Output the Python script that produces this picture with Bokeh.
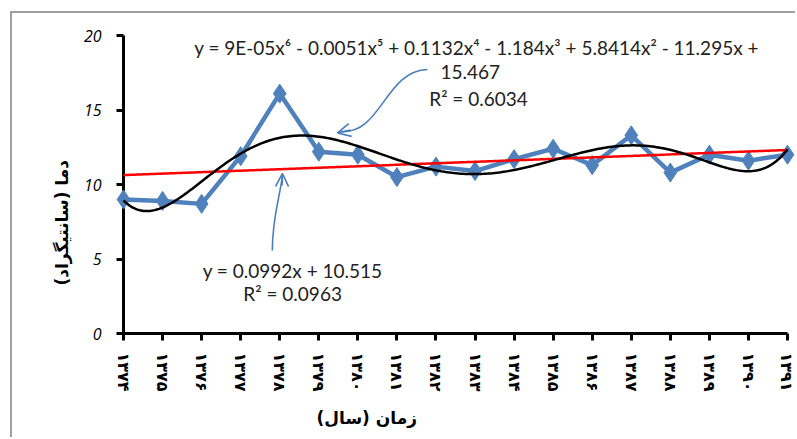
import math
import numpy as np
from bokeh.plotting import figure
from bokeh.models import Range1d, Label, Arrow, OpenHead, FixedTicker, Title
from bokeh.embed import file_html
from bokeh.resources import INLINE

# ---- data ----
years = ["۱۳۷۴", "۱۳۷۵", "۱۳۷۶", "۱۳۷۷", "۱۳۷۸", "۱۳۷۹", "۱۳۸۰", "۱۳۸۱", "۱۳۸۲",
         "۱۳۸۳", "۱۳۸۴", "۱۳۸۵", "۱۳۸۶", "۱۳۸۷", "۱۳۸۸", "۱۳۸۹", "۱۳۹۰", "۱۳۹۱"]
temps = [9.0, 8.9, 8.7, 11.9, 16.1, 12.2, 12.0, 10.5, 11.2,
         10.9, 11.7, 12.4, 11.3, 13.3, 10.8, 12.0, 11.6, 12.0]
y_ticks = [0, 5, 10, 15, 20]
poly_eq = "y = 9E-05x⁶ - 0.0051x⁵ + 0.1132x⁴ - 1.184x³ + 5.8414x² - 11.295x +"
poly_eq2 = "15.467"
poly_r2 = "R² = 0.6034"
lin_eq = "y = 0.0992x + 10.515"
lin_r2 = "R² = 0.0963"
x_title = "زمان (سال)"
y_title = "دما (سانتیگراد)"

xs = np.arange(1, len(temps) + 1)
ya = np.array(temps)

p = figure(width=785, height=426, output_backend="svg", toolbar_location=None,
           x_range=Range1d(1, 18), y_range=Range1d(0, 20),
           min_border_left=111, min_border_right=10, min_border_top=22, min_border_bottom=106)
p.styles = {"border-left": "2px solid #a0a0a0", "border-top": "2px solid #a0a0a0",
            "margin-left": "10px", "margin-top": "11px"}
p.outline_line_color = None
p.grid.visible = False
p.background_fill_color = "white"

# axes
for ax in (p.xaxis, p.yaxis):
    ax.axis_line_color = "black"
    ax.axis_line_width = 3
    ax.major_tick_line_color = "black"
    ax.major_tick_line_width = 3
    ax.major_tick_out = 7
    ax.major_tick_in = 0
    ax.minor_tick_line_color = None

p.xaxis.ticker = FixedTicker(ticks=list(xs))
p.xaxis.major_label_overrides = {int(i): s for i, s in zip(xs, years)}
p.xaxis.major_label_orientation = -math.pi / 2
p.xaxis.major_label_text_font = "DejaVu Sans"
p.xaxis.major_label_text_font_style = "bold"
p.xaxis.major_label_text_font_size = "16px"
p.xaxis.major_label_text_color = "black"
p.xaxis.major_label_standoff = 12

p.yaxis.ticker = FixedTicker(ticks=y_ticks)
p.yaxis.major_label_text_font = "Open Sans"
p.yaxis.major_label_text_font_style = "italic"
p.yaxis.major_label_text_font_size = "16px"
p.yaxis.major_label_text_color = "black"
p.yaxis.major_label_standoff = 15

# axis titles as side titles
yt = Title(text=y_title, align="left", offset=48, vertical_align="bottom",
           text_font="DejaVu Sans", text_font_style="bold", text_font_size="17px",
           text_color="black", standoff=18)
p.add_layout(yt, "left")
xt = Title(text=x_title, align="left", offset=193, vertical_align="bottom",
           text_font="DejaVu Sans", text_font_style="bold", text_font_size="17px",
           text_color="black", standoff=22)
p.add_layout(xt, "below")

# series
blue = "#4F81BD"
r1 = p.line(xs, ya, line_color=blue, line_width=4.5)
r2 = p.scatter(xs, ya, marker="diamond", size=19, fill_color=blue, line_color=blue)
r1.level = "overlay"
r2.level = "overlay"

# trendlines (fitted from the data)
lin = np.polyfit(xs, ya, 1)
poly = np.polyfit(xs, ya, 6)
xd = np.linspace(1, 18, 300)
r3 = p.line(xd, np.polyval(lin, xd), line_color="red", line_width=2.5)
r4 = p.line(xd, np.polyval(poly, xd), line_color="black", line_width=2.5)
r3.level = "overlay"
r4.level = "overlay"

# equation labels
txt = dict(text_font="Lato", text_font_size="19px", text_color="#222222",
           text_align="center", text_baseline="middle")
p.add_layout(Label(x=10.04, y=19.19, text=poly_eq, **txt))
p.add_layout(Label(x=9.88, y=17.52, text=poly_eq2, **txt))
p.add_layout(Label(x=10.09, y=15.77, text=poly_r2, **txt))
p.add_layout(Label(x=5.33, y=4.23, text=lin_eq, **txt))
p.add_layout(Label(x=5.33, y=2.68, text=lin_r2, **txt))

# callout arrows
acol = "#4A7EBB"
p.bezier(x0=[8.78], y0=[17.72], x1=[6.56], y1=[13.56], cx0=[7.71], cy0=[17.65],
         cx1=[7.58], cy1=[13.29], line_color=acol, line_width=1.6)
p.add_layout(Arrow(end=OpenHead(size=13, line_color=acol, line_width=1.6),
                   x_start=6.81, y_start=13.66, x_end=6.48, y_end=13.46,
                   line_color=acol, line_width=1.6))
p.bezier(x0=[4.81], y0=[5.57], x1=[5.07], y1=[10.67], cx0=[4.81], cy0=[7.92],
         cx1=[5.02], cy1=[9.26], line_color=acol, line_width=1.6)
p.add_layout(Arrow(end=OpenHead(size=13, line_color=acol, line_width=1.6),
                   x_start=5.06, y_start=9.93, x_end=5.07, y_end=10.74,
                   line_color=acol, line_width=1.6))

open("out.html", "w").write(file_html(p, INLINE))
